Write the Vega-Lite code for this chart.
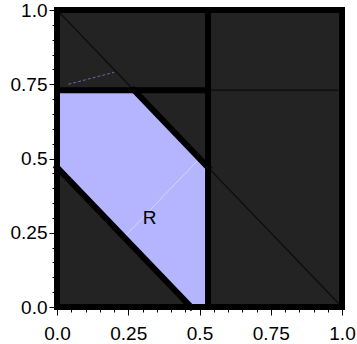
{
  "$schema": "https://vega.github.io/schema/vega-lite/v6.json",
  "width": 285,
  "height": 297,
  "autosize": {"type": "none"},
  "padding": {"left": 57, "top": 10, "right": 15, "bottom": 37},
  "background": "white",
  "config": {
    "view": {"stroke": null}
  },
  "encoding": {
    "x": {"type": "quantitative", "scale": {"domain": [0, 1], "nice": false, "zero": false},
      "axis": {
        "title": null, "grid": false,
        "values": [0, 0.05, 0.1, 0.15, 0.2, 0.25, 0.3, 0.35, 0.4, 0.45, 0.5, 0.55, 0.6, 0.65, 0.7, 0.75, 0.8, 0.85, 0.9, 0.95, 1],
        "labelExpr": "abs(datum.value) < 0.001 ? '0.0' : abs(datum.value - 0.25) < 0.001 ? '0.25' : abs(datum.value - 0.5) < 0.001 ? '0.5' : abs(datum.value - 0.75) < 0.001 ? '0.75' : abs(datum.value - 1) < 0.001 ? '1.0' : ''",
        "tickSize": {"condition": {"test": "abs(datum.value*4 - round(datum.value*4)) < 0.000001", "value": 8}, "value": 5},
        "labelFont": "Liberation Sans", "labelFontSize": 19, "labelColor": "black",
        "tickColor": "black", "domainColor": "black",
        "labelFlush": false, "labelOverlap": false,
        "labelPadding": 9
      }},
    "y": {"type": "quantitative", "scale": {"domain": [0, 1], "nice": false, "zero": false},
      "axis": {
        "title": null, "grid": false,
        "values": [0, 0.05, 0.1, 0.15, 0.2, 0.25, 0.3, 0.35, 0.4, 0.45, 0.5, 0.55, 0.6, 0.65, 0.7, 0.75, 0.8, 0.85, 0.9, 0.95, 1],
        "labelExpr": "abs(datum.value) < 0.001 ? '0.0' : abs(datum.value - 0.25) < 0.001 ? '0.25' : abs(datum.value - 0.5) < 0.001 ? '0.5' : abs(datum.value - 0.75) < 0.001 ? '0.75' : abs(datum.value - 1) < 0.001 ? '1.0' : ''",
        "tickSize": {"condition": {"test": "abs(datum.value*4 - round(datum.value*4)) < 0.000001", "value": 8}, "value": 5},
        "labelFont": "Liberation Sans", "labelFontSize": 19, "labelColor": "black",
        "tickColor": "black", "domainColor": "black",
        "labelFlush": false, "labelOverlap": false,
        "labelPadding": 2
      }}
  },
  "layer": [
    {
      "data": {"values": [{"x0": 0, "x1": 1, "y0": 0, "y1": 1}]},
      "mark": {"type": "rect", "color": "#232323"},
      "encoding": {
        "x": {"field": "x0", "type": "quantitative"},
        "x2": {"field": "x1"},
        "y": {"field": "y0", "type": "quantitative"},
        "y2": {"field": "y1"}
      }
    },
    {
      "data": {"values": [
        {"x": 0, "lo": 0.47, "hi": 0.73},
        {"x": 0.27, "lo": 0.2, "hi": 0.73},
        {"x": 0.47, "lo": 0, "hi": 0.53},
        {"x": 0.53, "lo": 0, "hi": 0.47}
      ]},
      "mark": {"type": "area", "color": "#b4b4ff", "opacity": 1},
      "encoding": {
        "x": {"field": "x", "type": "quantitative"},
        "y": {"field": "lo", "type": "quantitative"},
        "y2": {"field": "hi"}
      }
    },
    {
      "data": {"values": [
        {"x": 0.235, "y": 0.235, "x2": 0.5, "y2": 0.5}
      ]},
      "mark": {"type": "rule", "color": "#d4d4ff", "strokeWidth": 1},
      "encoding": {
        "x": {"field": "x", "type": "quantitative"},
        "y": {"field": "y", "type": "quantitative"},
        "x2": {"field": "x2"},
        "y2": {"field": "y2"}
      }
    },
    {
      "data": {"values": [
        {"x": 0.04, "y": 0.75, "x2": 0.2, "y2": 0.79}
      ]},
      "mark": {"type": "rule", "color": "#6a6a9a", "strokeWidth": 1, "strokeDash": [3, 2]},
      "encoding": {
        "x": {"field": "x", "type": "quantitative"},
        "y": {"field": "y", "type": "quantitative"},
        "x2": {"field": "x2"},
        "y2": {"field": "y2"}
      }
    },
    {
      "data": {"values": [
        {"x": 0, "y": 1, "x2": 1, "y2": 0},
        {"x": 0.53, "y": 0.73, "x2": 1, "y2": 0.73}
      ]},
      "mark": {"type": "rule", "color": "#0d0d0d", "strokeWidth": 1.3},
      "encoding": {
        "x": {"field": "x", "type": "quantitative"},
        "y": {"field": "y", "type": "quantitative"},
        "x2": {"field": "x2"},
        "y2": {"field": "y2"}
      }
    },
    {
      "data": {"values": [
        {"x": 0, "y": 0, "x2": 1, "y2": 0},
        {"x": 0, "y": 1, "x2": 1, "y2": 1},
        {"x": 0, "y": 0, "x2": 0, "y2": 1},
        {"x": 1, "y": 0, "x2": 1, "y2": 1},
        {"x": 0.53, "y": 0, "x2": 0.53, "y2": 1},
        {"x": 0, "y": 0.73, "x2": 0.53, "y2": 0.73},
        {"x": 0.27, "y": 0.73, "x2": 0.53, "y2": 0.47},
        {"x": 0, "y": 0.47, "x2": 0.47, "y2": 0}
      ]},
      "mark": {"type": "rule", "color": "black", "strokeWidth": 6, "strokeCap": "square"},
      "encoding": {
        "x": {"field": "x", "type": "quantitative"},
        "y": {"field": "y", "type": "quantitative"},
        "x2": {"field": "x2"},
        "y2": {"field": "y2"}
      }
    },
    {
      "data": {"values": [{"x": 0.325, "y": 0.3, "label": "R"}]},
      "mark": {"type": "text", "font": "Liberation Sans", "fontSize": 19, "color": "black", "align": "center", "baseline": "middle"},
      "encoding": {
        "x": {"field": "x", "type": "quantitative"},
        "y": {"field": "y", "type": "quantitative"},
        "text": {"field": "label"}
      }
    }
  ]
}
